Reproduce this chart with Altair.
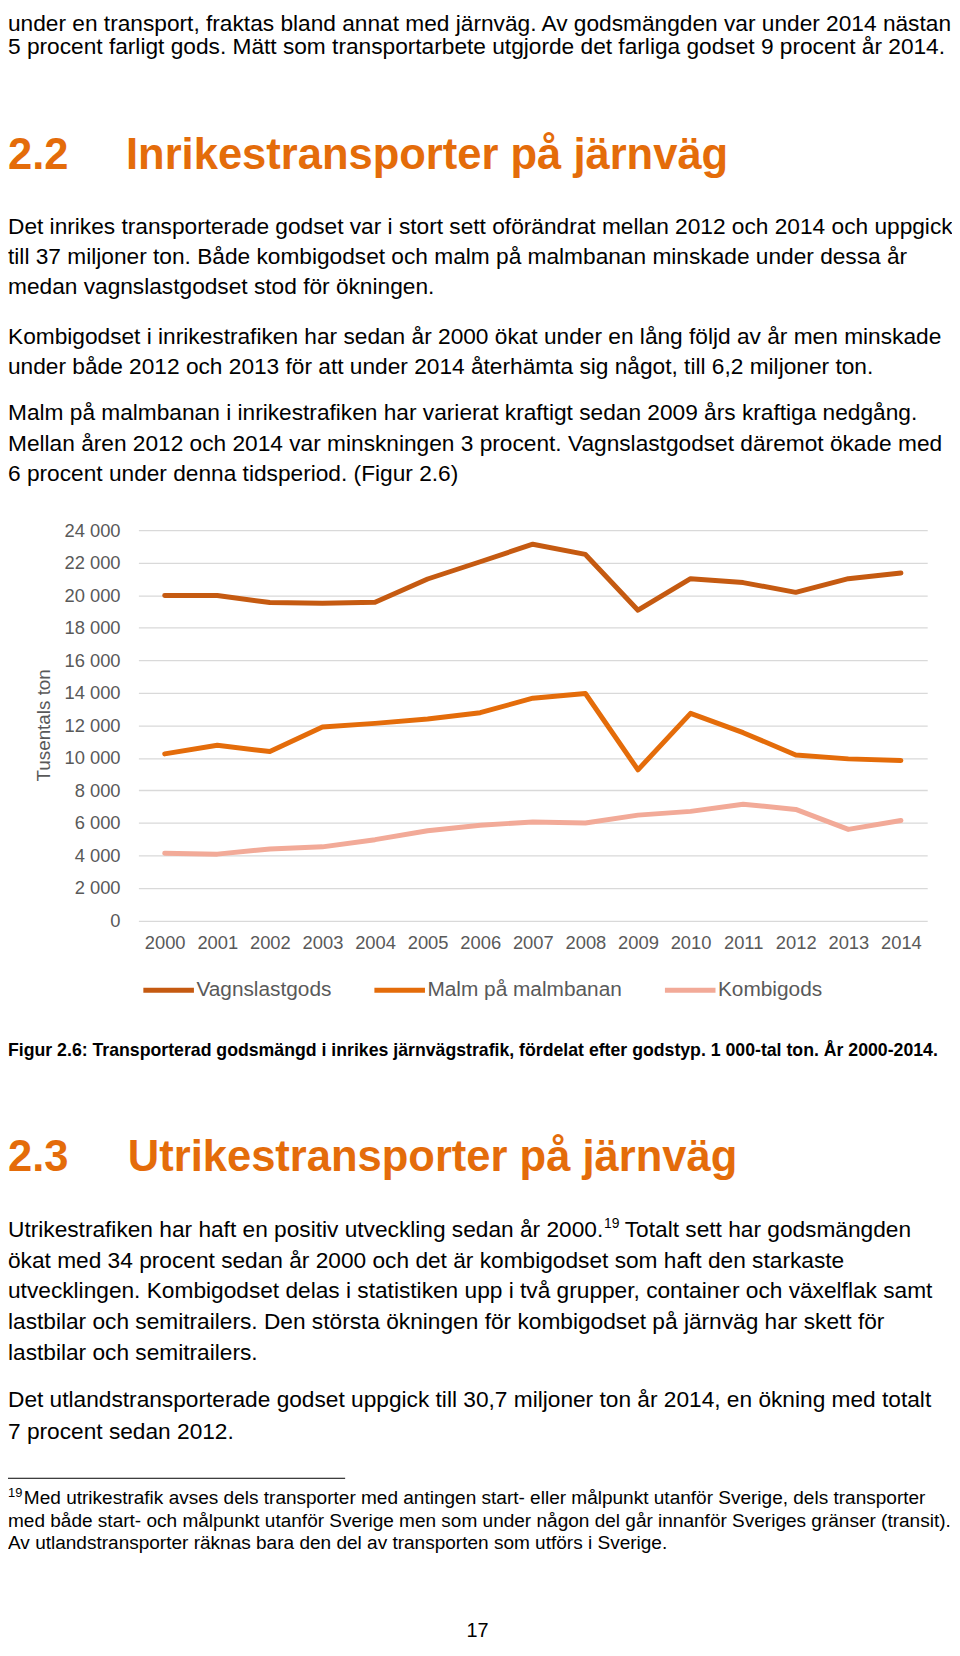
import altair as alt
import pandas as pd

FONT = "Liberation Sans"

# ---------------- data ----------------
years = ["2000", "2001", "2002", "2003", "2004", "2005", "2006", "2007",
         "2008", "2009", "2010", "2011", "2012", "2013", "2014"]
vagnslastgods = [19980, 19980, 19550, 19510, 19570, 21000, 22060, 23140,
                 22510, 19080, 21020, 20780, 20180, 21020, 21370]
malm = [10245, 10775, 10390, 11900, 12120, 12390, 12780, 13670,
        13960, 9265, 12740, 11550, 10180, 9940, 9840]
kombigods = [4140, 4080, 4400, 4530, 4970, 5520, 5860, 6060,
             6000, 6480, 6710, 7150, 6830, 5600, 6150]
series_names = ["Vagnslastgods", "Malm på malmbanan", "Kombigods"]
series_colors = ["#C55A11", "#E46C0A", "#F2AA98"]
y_ticks = [0, 2000, 4000, 6000, 8000, 10000, 12000, 14000, 16000,
           18000, 20000, 22000, 24000]
y_title = "Tusentals ton"

para0_l1 = ["under en transport, fraktas bland annat med järnväg. Av godsmängden var under 2014 nästan"]
para0_l2 = ["5 procent farligt gods. Mätt som transportarbete utgjorde det farliga godset 9 procent år 2014."]
heading1_num = "2.2"
heading1_text = "Inrikestransporter på järnväg"
para1 = ["Det inrikes transporterade godset var i stort sett oförändrat mellan 2012 och 2014 och uppgick",
         "till 37 miljoner ton. Både kombigodset och malm på malmbanan minskade under dessa år",
         "medan vagnslastgodset stod för ökningen."]
para2 = ["Kombigodset i inrikestrafiken har sedan år 2000 ökat under en lång följd av år men minskade",
         "under både 2012 och 2013 för att under 2014 återhämta sig något, till 6,2 miljoner ton."]
para3 = ["Malm på malmbanan i inrikestrafiken har varierat kraftigt sedan 2009 års kraftiga nedgång.",
         "Mellan åren 2012 och 2014 var minskningen 3 procent. Vagnslastgodset däremot ökade med",
         "6 procent under denna tidsperiod. (Figur 2.6)"]
caption = "Figur 2.6: Transporterad godsmängd i inrikes järnvägstrafik, fördelat efter godstyp. 1 000-tal ton. År 2000-2014."
heading2_num = "2.3"
heading2_text = "Utrikestransporter på järnväg"
para4_first_a = "Utrikestrafiken har haft en positiv utveckling sedan år 2000."
para4_sup = "19"
para4_first_b = "Totalt sett har godsmängden"
para4_rest = ["ökat med 34 procent sedan år 2000 och det är kombigodset som haft den starkaste",
              "utvecklingen. Kombigodset delas i statistiken upp i två grupper, container och växelflak samt",
              "lastbilar och semitrailers. Den största ökningen för kombigodset på järnväg har skett för",
              "lastbilar och semitrailers."]
para5 = ["Det utlandstransporterade godset uppgick till 30,7 miljoner ton år 2014, en ökning med totalt",
         "7 procent sedan 2012."]
foot_sup = "19"
foot_first = "Med utrikestrafik avses dels transporter med antingen start- eller målpunkt utanför Sverige, dels transporter"
foot_rest = ["med både start- och målpunkt utanför Sverige men som under någon del går innanför Sveriges gränser (transit).",
             "Av utlandstransporter räknas bara den del av transporten som utförs i Sverige."]
page_number = "17"

# ---------------- layout (page px) ----------------
PX0 = 139.5   # page x of plot-area left
PY0 = 527.7   # page y of plot-area top
PLOT_W = 795.5
PLOT_H = 393.6
TOTAL_W = 952
TOTAL_H = 1636

rows = []
for name, vals in zip(series_names, [vagnslastgods, malm, kombigods]):
    for yr, v in zip(years, vals):
        rows.append({"year": yr, "value": v, "series": name})
df = pd.DataFrame(rows)

lines = alt.Chart(df).mark_line(strokeWidth=5, strokeCap="round", strokeJoin="round").encode(
    x=alt.X("year:O", scale=alt.Scale(padding=0.5),
            axis=alt.Axis(title=None, labelAngle=0, domain=False, ticks=False, tickSize=0,
                          grid=False, labelFont=FONT, labelFontSize=18.5,
                          labelColor="#595959", labelPadding=13.5)),
    y=alt.Y("value:Q", scale=alt.Scale(domain=[0, 24000], nice=False, zero=True),
            axis=alt.Axis(title=None, values=y_ticks, domain=False, ticks=False,
                          grid=True, gridColor="#D9D9D9", gridWidth=1.3,
                          labelFont=FONT, labelFontSize=18.5, labelColor="#595959",
                          labelPadding=18.5,
                          labelExpr="replace(format(datum.value, ','), ',', ' ')")),
    color=alt.Color("series:N", scale=alt.Scale(domain=series_names, range=series_colors),
                    legend=alt.Legend(title=None, orient="none", direction="horizontal",
                                      legendX=2.5, legendY=436, symbolType="stroke",
                                      symbolSize=2601, symbolStrokeWidth=5,
                                      labelFont=FONT, labelFontSize=21, labelColor="#595959",
                                      labelOffset=0, labelLimit=0, columnPadding=32,
                                      padding=0)),
)

one = pd.DataFrame({"k": [0]})


def text_block(txt_lines, page_x, baseline_page, size, weight="normal", color="#000000",
               line_height=30.6, align="left", angle=0, baseline="alphabetic"):
    return alt.Chart(one).mark_text(
        align=align, baseline=baseline, font=FONT, fontSize=size, fontWeight=weight,
        color=color, lineHeight=line_height, lineBreak="\n", angle=angle
    ).encode(
        x=alt.value(page_x - PX0),
        y=alt.value(baseline_page - PY0),
        text=alt.value("\n".join(txt_lines)),
    )


BODY = 22.9
HEAD = 43.9
ORANGE = "#E46C0A"
layers = [lines]
layers.append(text_block(para0_l1, 8, 24, BODY))
layers.append(text_block(para0_l2, 8, 47, BODY))
layers.append(text_block([heading1_num], 8, 163.3, HEAD, weight="bold", color=ORANGE))
layers.append(text_block([heading1_text], 127, 163.3, HEAD, weight="bold", color=ORANGE))
layers.append(text_block(para1, 8, 228.7, BODY))
layers.append(text_block(para2, 8, 339.8, BODY))
layers.append(text_block(para3, 8, 416.8, BODY))
layers.append(text_block([y_title], 44, 724.5, 19, color="#595959", angle=270,
                         align="center", baseline="middle"))
layers.append(text_block([caption], 8, 1057.5, 17.85, weight="bold"))
layers.append(text_block([heading2_num], 8, 1174, HEAD, weight="bold", color=ORANGE))
layers.append(text_block([heading2_text], 128.8, 1174, HEAD, weight="bold", color=ORANGE))
layers.append(text_block([para4_first_a], 8, 1240.7, BODY))
layers.append(text_block([para4_sup], 609, 1231.5, 14))
layers.append(text_block([para4_first_b], 630, 1240.7, BODY))
layers.append(text_block(para4_rest, 8, 1240.7 + 30.9, BODY, line_height=30.9))
layers.append(text_block(para5, 8, 1412.3, BODY, line_height=31.5))
layers.append(alt.Chart(one).mark_rule(color="#000000", strokeWidth=1).encode(
    x=alt.value(8 - PX0), x2=alt.value(348 - PX0), y=alt.value(1483.8 - PY0)))
layers.append(text_block([foot_sup], 8, 1503, 13))
layers.append(text_block([foot_first], 24, 1510, 19.2))
layers.append(text_block(foot_rest, 8, 1510 + 22.7, 19.2, line_height=22.7))
layers.append(text_block([page_number], 481.5, 1643.5, 20, align="center"))

chart = alt.layer(*layers).properties(
    width=PLOT_W,
    height=PLOT_H,
    padding={"left": PX0 - 8, "top": PY0 - 8, "right": TOTAL_W - (PX0 - 8) - PLOT_W,
             "bottom": TOTAL_H - (PY0 - 8) - PLOT_H},
    autosize=alt.AutoSizeParams(type="none"),
    background="white",
).configure_view(stroke=None)

chart.save("out.html", embed_options={"renderer": "svg", "actions": False})
